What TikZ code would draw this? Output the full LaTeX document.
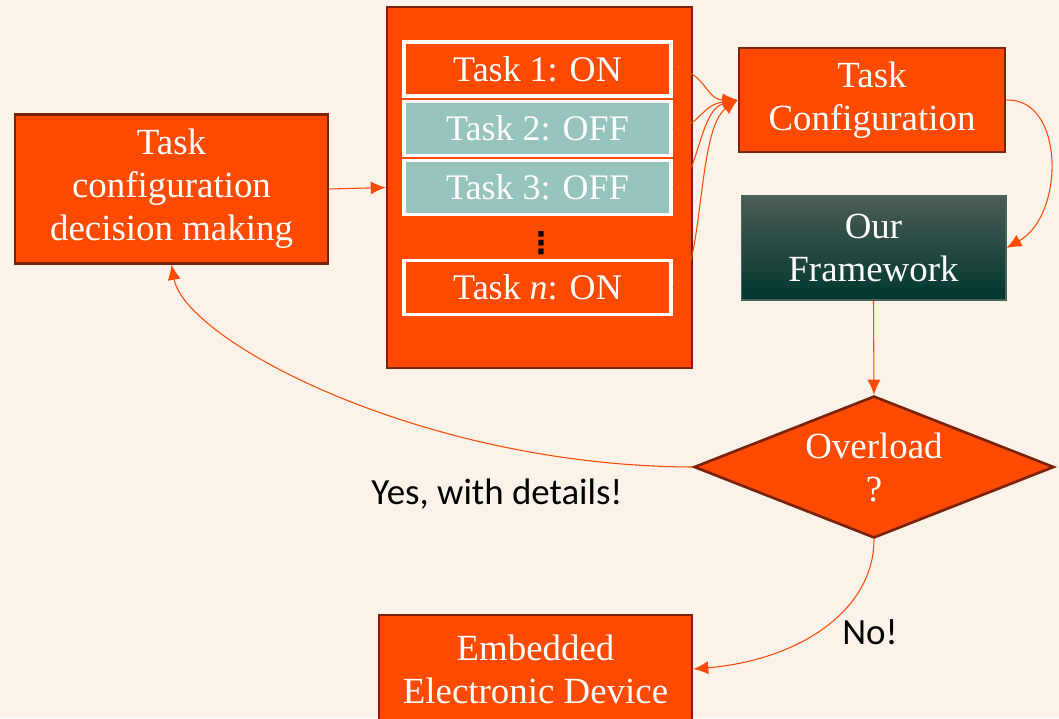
\documentclass[tikz,border=0pt]{standalone}
\usepackage{fontspec}
\setmainfont{Liberation Serif}
\newfontfamily\labelfont{Carlito}
\newfontfamily\symbolfont{DejaVu Sans}
\usetikzlibrary{arrows.meta}
\usetikzlibrary{shapes.geometric}

\definecolor{bgcream}{RGB}{251,242,234}
\definecolor{taskorange}{RGB}{255,74,0}
\definecolor{boxborder}{RGB}{122,35,10}
\definecolor{offteal}{RGB}{150,195,187}
\definecolor{fwtop}{RGB}{75,92,86}
\definecolor{fwbottom}{RGB}{0,56,46}
\definecolor{fwborder}{RGB}{70,100,90}

\begin{document}
\begin{tikzpicture}[x=0.02cm, y=-0.02cm]
            \tikzstyle{orange box} = [draw=boxborder, line width=1.5pt, fill=taskorange, text=white, align=center, font=\fontsize{21}{24.5}\selectfont]
            \tikzstyle{task on} = [draw=white, line width=2pt, fill=taskorange, text=white, minimum width=5.34cm, minimum height=1.08cm, font=\fontsize{20.5}{24}\selectfont]
            \tikzstyle{task off} = [task on, fill=offteal]
            \tikzstyle{flow} = [draw=taskorange, line width=0.6pt, -{Latex[length=0.3cm, width=0.26cm]}]
            \tikzstyle{answer} = [font=\labelfont\fontsize{21}{24}\selectfont, text=black]

            \useasboundingbox[fill=bgcream] (0, 0) rectangle (1059, 718);

            \node[orange box, minimum width=6.26cm, minimum height=2.98cm] (decision) at (171.5, 189) {Task\\configuration\\decision making};
            \node[orange box, minimum width=6.1cm, minimum height=7.22cm] (tasklist) at (539.5, 187.5) {};
            \node[task on] (task1) at (537.5, 69) {Task 1: ON};
            \node[task off] (task2) at (537.5, 128.5) {Task 2: OFF};
            \node[task off] (task3) at (537.5, 187.5) {Task 3: OFF};
            \node[inner sep=0pt, font=\symbolfont\bfseries\fontsize{17}{17}\selectfont] (taskdots) at (541, 243) {⋮};
            \node[task on] (taskn) at (537.5, 287.5) {Task \textit{n}: ON};
            \node[orange box, minimum width=5.32cm, minimum height=2.08cm] (config) at (872, 100) {Task\\Configuration};
            \node[draw=fwborder, line width=0.6pt, top color=fwtop, middle color=fwbottom, bottom color=fwbottom, text=white, align=center, font=\fontsize{21}{24.5}\selectfont, minimum width=5.3cm, minimum height=2.08cm] (framework) at (873.5, 248) {Our\\Framework};
            \node[orange box, diamond, aspect=2.5, minimum width=7.2cm, minimum height=2.84cm, inner sep=0pt] (overload) at (874, 467) {Overload\\?};
            \node[orange box, minimum width=6.26cm, minimum height=2.16cm] (device) at (535.5, 669) {Embedded\\Electronic Device};

            \draw[flow] (decision.east) -- (tasklist.west);
            \draw[flow] (task1.east) .. controls (705, 69) and (705, 100) .. (config.west);
            \draw[flow] (task2.east) .. controls (700, 128) and (700, 105) .. (config.west);
            \draw[flow] (task3.east) .. controls (698, 187) and (698, 110) .. (config.west);
            \draw[flow] (taskn.east) .. controls (705, 287) and (695, 130) .. (config.west);
            \draw[flow] (config.east) .. controls (1065, 98) and (1065, 215) .. (framework.east);
            \draw[flow] (framework.south) -- (overload.north);
            \draw[flow] (overload.west) .. controls (420, 466) and (185, 340) .. (decision.south);
            \draw[flow] (overload.south) .. controls (874, 610) and (800, 660) .. (device.east);

            \node[answer] (yes) at (497, 494) {Yes, with details!};
            \node[answer] (no) at (870, 632) {No!};
        \end{tikzpicture}
\end{document}
